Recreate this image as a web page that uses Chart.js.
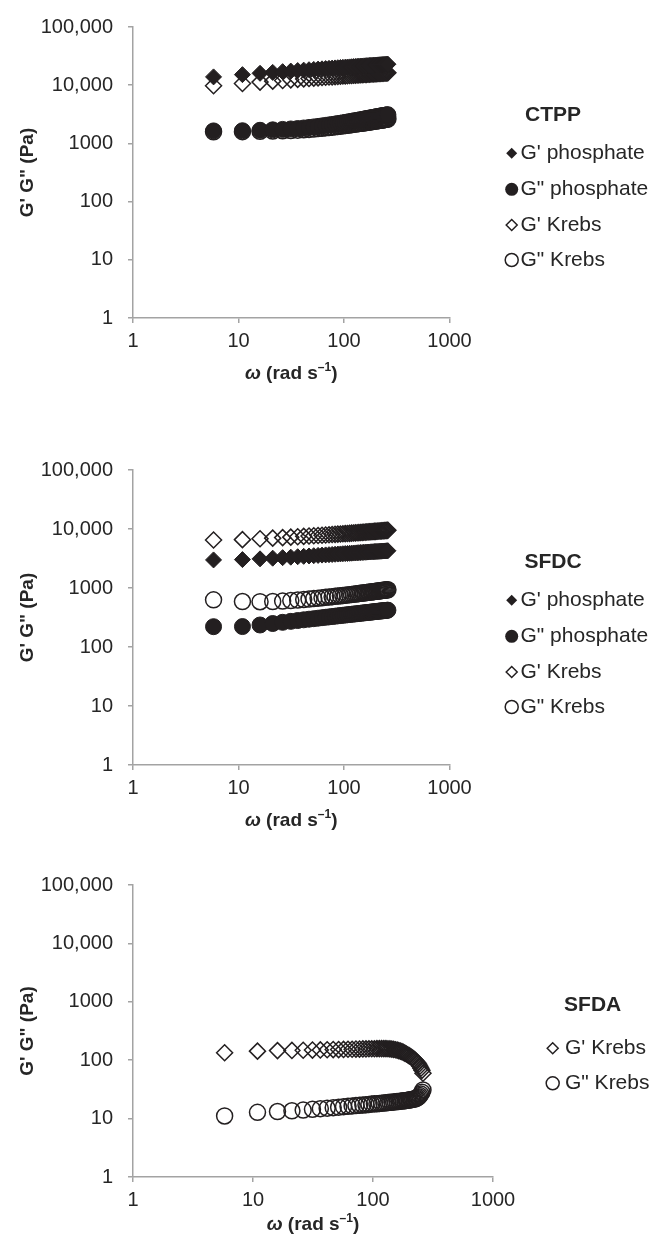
<!DOCTYPE html>
<html>
<head>
<meta charset="utf-8">
<script src="https://cdn.jsdelivr.net/npm/chart.js@4.4.1/dist/chart.umd.min.js"></script>
<style>
  body { margin: 0; background: #fff; }
  canvas.panel { position: absolute; left: 0; }
</style>
</head>
<body>
<canvas id="ctpp" class="panel" width="651" height="420" style="top:0px"></canvas>
<canvas id="sfdc" class="panel" width="651" height="420" style="top:420px"></canvas>
<canvas id="sfda" class="panel" width="651" height="402" style="top:840px"></canvas>
<script>
// angular frequency (rad/s), same sweep for every sample
const omega = [5.8, 10.9, 16.0, 21.1, 26.2, 31.3, 36.4, 41.5, 46.6, 51.7, 56.8, 61.9, 67.0, 72.1, 77.2, 82.3, 87.4,
  92.5, 97.6, 102.7, 107.8, 112.9, 118.0, 123.1, 128.2, 133.3, 138.4, 143.5, 148.6, 153.7, 158.8, 163.9, 169.0,
  174.1, 179.2, 184.3, 189.4, 194.5, 199.6, 204.7, 209.8, 214.9, 220.0, 225.1, 230.2, 235.3, 240.4, 245.5, 250.6,
  255.7, 260.8];

// CTPP
const ctppGpPhosphate = [13900, 15190, 16010, 16600, 17090, 17490, 17850, 18150, 18440, 18670, 18900, 19110, 19300,
  19480, 19660, 19820, 19970, 20120, 20250, 20390, 20520, 20640, 20750, 20870, 20980, 21080, 21190, 21280, 21370,
  21470, 21560, 21640, 21720, 21810, 21890, 21960, 22040, 22110, 22190, 22260, 22320, 22390, 22450, 22520, 22580,
  22640, 22700, 22760, 22820, 22880, 22940];
const ctppGppPhosphate = [1640, 1650, 1680, 1710, 1740, 1770, 1800, 1840, 1880, 1920, 1960, 2000, 2040, 2080, 2110,
  2150, 2190, 2220, 2260, 2290, 2330, 2360, 2400, 2430, 2460, 2490, 2520, 2550, 2580, 2610, 2640, 2670, 2700, 2720,
  2750, 2780, 2800, 2830, 2850, 2880, 2900, 2920, 2950, 2970, 2990, 3010, 3030, 3050, 3070, 3090, 3110];
const ctppGpKrebs = [9800, 10720, 11300, 11740, 12080, 12370, 12620, 12840, 13040, 13220, 13380, 13540, 13680, 13810,
  13930, 14050, 14160, 14270, 14370, 14470, 14560, 14650, 14730, 14810, 14890, 14970, 15040, 15110, 15180, 15250,
  15310, 15380, 15440, 15500, 15560, 15620, 15670, 15720, 15780, 15830, 15880, 15930, 15980, 16030, 16070, 16120,
  16170, 16210, 16250, 16300, 16340];
const ctppGppKrebs = [1580, 1590, 1610, 1630, 1650, 1670, 1690, 1720, 1740, 1770, 1800, 1820, 1850, 1880, 1900, 1930,
  1960, 1980, 2010, 2030, 2060, 2080, 2100, 2130, 2150, 2170, 2190, 2210, 2230, 2250, 2270, 2290, 2310, 2330, 2350,
  2370, 2390, 2410, 2420, 2440, 2460, 2480, 2490, 2510, 2530, 2540, 2560, 2580, 2590, 2610, 2620];

// SFDC
const sfdcGpPhosphate = [2990, 3030, 3120, 3200, 3270, 3330, 3390, 3440, 3490, 3530, 3570, 3610, 3640, 3670, 3700,
  3730, 3760, 3780, 3810, 3830, 3850, 3870, 3890, 3910, 3930, 3950, 3970, 3990, 4000, 4020, 4040, 4050, 4070, 4080,
  4100, 4110, 4120, 4140, 4150, 4160, 4170, 4180, 4200, 4210, 4220, 4230, 4240, 4250, 4260, 4270, 4280];
const sfdcGppPhosphate = [221, 222, 236, 250, 262, 272, 281, 289, 296, 302, 308, 314, 319, 324, 328, 333, 337, 341,
  345, 348, 352, 355, 358, 362, 364, 367, 370, 373, 376, 378, 381, 383, 386, 388, 390, 392, 395, 397, 399, 401, 403,
  405, 407, 409, 410, 412, 414, 416, 417, 419, 421];
const sfdcGpKrebs = [6500, 6600, 6850, 7000, 7150, 7280, 7400, 7500, 7600, 7690, 7770, 7850, 7920, 7990, 8060, 8120,
  8180, 8240, 8290, 8350, 8400, 8450, 8500, 8550, 8590, 8640, 8680, 8720, 8760, 8800, 8840, 8880, 8920, 8960, 8990,
  9030, 9060, 9100, 9130, 9160, 9200, 9230, 9260, 9290, 9320, 9350, 9380, 9410, 9440, 9470, 9500];
const sfdcGppKrebs = [630, 590, 585, 590, 600, 612, 625, 638, 650, 662, 673, 684, 694, 704, 713, 722, 731, 740, 748,
  756, 764, 772, 779, 786, 793, 800, 807, 813, 820, 826, 832, 838, 844, 850, 856, 861, 867, 872, 878, 883, 888, 893,
  898, 903, 908, 913, 917, 922, 926, 931, 935];

// SFDA (Krebs only)
const sfdaGpKrebs = [134, 143, 146, 147, 148, 149, 150, 151, 152, 152, 153, 154, 154, 155, 155, 156, 156, 157, 157,
  157, 158, 158, 158, 158, 158, 157, 156, 155, 153, 151, 149, 146, 143, 140, 136, 132, 128, 124, 120, 116, 112, 108,
  104, 100, 95, 90, 85, 79, 73, 67, 60];
const sfdaGppKrebs = [11.1, 12.8, 13.2, 13.6, 14.0, 14.4, 14.8, 15.1, 15.4, 15.7, 16.0, 16.2, 16.5, 16.7, 16.9, 17.1,
  17.3, 17.5, 17.7, 17.9, 18.0, 18.2, 18.4, 18.5, 18.7, 18.8, 19.0, 19.1, 19.3, 19.4, 19.6, 19.7, 19.9, 20.0, 20.2,
  20.3, 20.5, 20.6, 20.8, 21.0, 21.2, 21.4, 21.6, 21.9, 22.3, 22.9, 23.7, 24.8, 26.3, 28.3, 31.0];

const xTicks = [1, 10, 100, 1000];
const xTickLabels = ['1', '10', '100', '1000'];
const yTicks = [1, 10, 100, 1000, 10000, 100000];
const yTickLabels = ['1', '10', '100', '1000', '10,000', '100,000'];

const FONT = "'Liberation Sans', Arial, sans-serif";
const INK = '#231f20';
const TEXT = '#262626';
const AXIS = '#a3a3a3';

function series(label, values, style, filled) {
  return {
    label: label,
    data: omega.map((w, i) => ({ x: w, y: values[i] })),
    pointStyle: style,
    pointRadius: 8,
    pointHoverRadius: 8,
    borderWidth: filled ? 1 : 1.5,
    borderColor: INK,
    backgroundColor: filled ? INK : 'rgba(0,0,0,0)',
    showLine: false
  };
}

function drawMarker(ctx, ds, x, y) {
  ctx.beginPath();
  if (ds.pointStyle === 'rectRot') {
    const r = 5.5;
    ctx.moveTo(x - r, y); ctx.lineTo(x, y - r); ctx.lineTo(x + r, y); ctx.lineTo(x, y + r);
    ctx.closePath();
  } else {
    ctx.arc(x, y, 6.5, 0, Math.PI * 2);
  }
  if (ds.backgroundColor === INK) {
    ctx.fillStyle = INK;
    ctx.fill();
  } else {
    ctx.strokeStyle = INK;
    ctx.lineWidth = 1.5;
    ctx.stroke();
  }
}

// sample name, legend rows and the omega axis title (italic omega + superscript)
const panelDecor = {
  id: 'panelDecor',
  afterDraw(chart, args, o) {
    const ctx = chart.ctx;
    const area = chart.chartArea;
    ctx.save();
    ctx.textBaseline = 'middle';
    ctx.fillStyle = TEXT;
    ctx.textAlign = 'center';
    ctx.font = 'bold 21px ' + FONT;
    ctx.fillText(o.name, o.nameX, o.nameY);

    ctx.textAlign = 'left';
    chart.data.datasets.forEach((ds, i) => {
      drawMarker(ctx, ds, o.markerX, o.rowY[i]);
      ctx.fillStyle = TEXT;
      ctx.font = '21px ' + FONT;
      ctx.fillText(ds.label, o.textX, o.rowY[i]);
    });

    const parts = [
      { t: '\u03c9', f: 'italic bold 19px ' + FONT, dy: 0 },
      { t: ' (rad s', f: 'bold 19px ' + FONT, dy: 0 },
      { t: '\u20131', f: 'bold 12px ' + FONT, dy: -6 },
      { t: ')', f: 'bold 19px ' + FONT, dy: 0 }
    ];
    let total = 0;
    parts.forEach(p => { ctx.font = p.f; p.w = ctx.measureText(p.t).width; total += p.w; });
    let x = (area.left + area.right) / 2 - total / 2;
    const y = area.bottom + o.titleDy;
    parts.forEach(p => {
      ctx.font = p.f;
      ctx.fillText(p.t, x, y + p.dy);
      x += p.w;
    });
    ctx.restore();
  }
};

function makePanel(id, datasets, padding, decor) {
  new Chart(document.getElementById(id), {
    type: 'scatter',
    data: { datasets: datasets },
    options: {
      responsive: false,
      animation: false,
      events: [],
      layout: { padding: padding },
      plugins: {
        legend: { display: false },
        tooltip: { enabled: false },
        panelDecor: decor
      },
      scales: {
        x: {
          type: 'logarithmic',
          min: 1,
          max: 1000,
          afterBuildTicks: s => { s.ticks = xTicks.map(v => ({ value: v })); },
          afterFit: s => { s.height = 64; },
          ticks: {
            callback: (v, i) => xTickLabels[i],
            font: { family: FONT, size: 20 },
            color: TEXT,
            padding: 6,
            maxRotation: 0,
            autoSkip: false
          },
          grid: { drawOnChartArea: false, drawTicks: true, tickLength: 5, color: AXIS, lineWidth: 1.5 },
          border: { color: AXIS, width: 1.5 }
        },
        y: {
          type: 'logarithmic',
          min: 1,
          max: 100000,
          afterBuildTicks: s => { s.ticks = yTicks.map(v => ({ value: v })); },
          afterFit: s => { s.width = 121; },
          ticks: {
            callback: (v, i) => yTickLabels[i],
            font: { family: FONT, size: 20 },
            color: TEXT,
            padding: 15,
            autoSkip: false
          },
          grid: { drawOnChartArea: false, drawTicks: true, tickLength: 5, color: AXIS, lineWidth: 1.5 },
          border: { color: AXIS, width: 1.5 },
          title: {
            display: true,
            text: 'G\' G" (Pa)',
            font: { family: FONT, size: 19, weight: 'bold' },
            color: TEXT,
            padding: { top: 4, bottom: 4 }
          }
        }
      }
    },
    plugins: [panelDecor]
  });
}

makePanel('ctpp', [
  series('G\' phosphate', ctppGpPhosphate, 'rectRot', true),
  series('G" phosphate', ctppGppPhosphate, 'circle', true),
  series('G\' Krebs', ctppGpKrebs, 'rectRot', false),
  series('G" Krebs', ctppGppKrebs, 'circle', false)
], { top: 23, left: 12, right: 201.5, bottom: 38 },
{ name: 'CTPP', nameX: 553, nameY: 115, markerX: 511.7, textX: 520.5, rowY: [153.3, 189.3, 225, 260], titleDy: 56 });

makePanel('sfdc', [
  series('G\' phosphate', sfdcGpPhosphate, 'rectRot', true),
  series('G" phosphate', sfdcGppPhosphate, 'circle', true),
  series('G\' Krebs', sfdcGpKrebs, 'rectRot', false),
  series('G" Krebs', sfdcGppKrebs, 'circle', false)
], { top: 50, left: 12, right: 201.5, bottom: 11 },
{ name: 'SFDC', nameX: 553, nameY: 142, markerX: 511.7, textX: 520.5, rowY: [180.3, 216.3, 252, 287], titleDy: 56 });

makePanel('sfda', [
  series('G\' Krebs', sfdaGpKrebs, 'rectRot', false),
  series('G" Krebs', sfdaGppKrebs, 'circle', false)
], { top: 45, left: 12, right: 158, bottom: 1 },
{ name: 'SFDA', nameX: 592.7, nameY: 165, markerX: 552.7, textX: 565, rowY: [208.3, 243.3], titleDy: 48 });
</script>
</body>
</html>
